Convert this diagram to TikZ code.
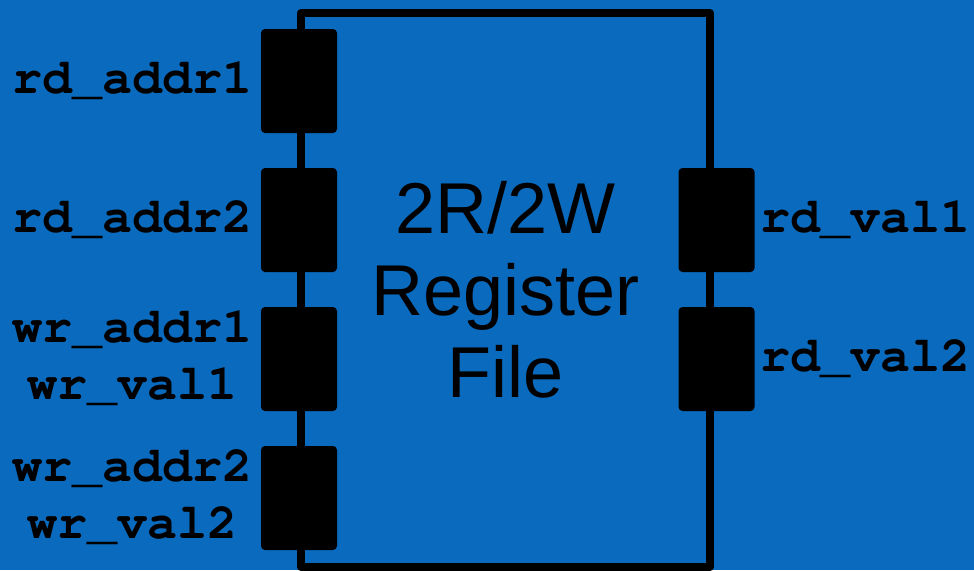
\documentclass[tikz,border=0pt]{standalone}
\usepackage{fontspec}
\setmainfont{Liberation Sans}
\usetikzlibrary{positioning}
\definecolor{boardblue}{RGB}{10,106,189}
\newcommand{\sigfont}{\fontencoding{T1}\fontfamily{pcr}\fontseries{b}\fontsize{50}{57}\selectfont}

\begin{document}
\begin{tikzpicture}[
    x=1pt, y=-1pt,
    body/.style={draw, line width=8pt, line join=round, minimum width=409pt, minimum height=554pt,
        align=center, font=\fontsize{72}{82}\selectfont},
    port/.style={fill=black, rounded corners=4pt, minimum width=76pt, minimum height=104pt, inner sep=0pt},
    sig/.style={font=\sigfont, align=center, inner sep=0pt}
]
    % Background
    \useasboundingbox (0,0) rectangle (974,570);
    \fill[boardblue] (0,0) rectangle (974,570);

    % Register file
    \node[body] (rf) at (505.5,290) {2R/2W\\Register\\File};

    % Left ports
    \node[port] (ra1) at (299,81) {};
    \node[port] (ra2) at (299,220) {};
    \node[port] (wp1) at (299,359) {};
    \node[port] (wp2) at (299,498) {};

    % Right ports
    \node[port] (rv1) at (716.5,220) {};
    \node[port] (rv2) at (716.5,359) {};

    % Labels
    \node[sig, left=8pt of ra1] (ra1l) {rd\_addr1};
    \node[sig, left=8pt of ra2] (ra2l) {rd\_addr2};
    \node[sig, left=8pt of wp1] (wp1l) {wr\_addr1\\wr\_val1};
    \node[sig, left=8pt of wp2] (wp2l) {wr\_addr2\\wr\_val2};
    \node[sig, right=6pt of rv1] (rv1l) {rd\_val1};
    \node[sig, right=6pt of rv2] (rv2l) {rd\_val2};

\end{tikzpicture}
\end{document}
